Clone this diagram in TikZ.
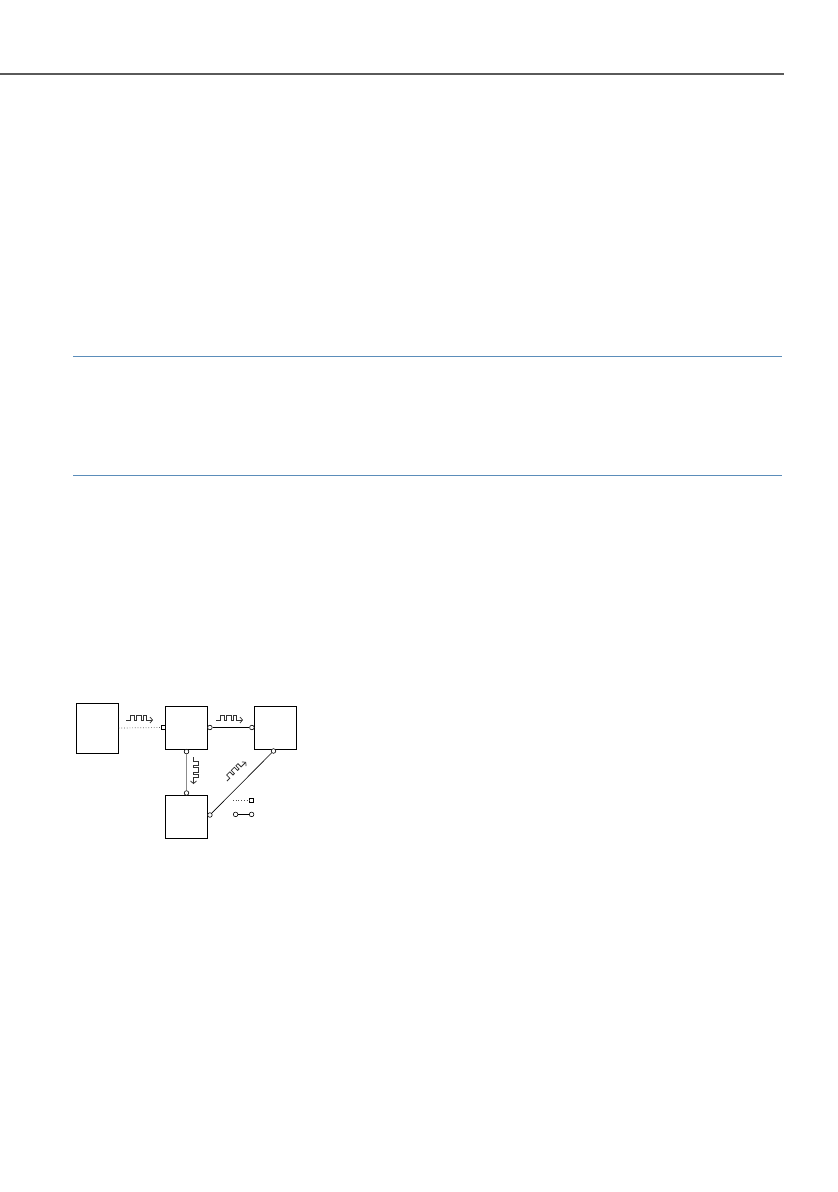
\documentclass[tikz,border=0pt]{standalone}
\usepackage{tikz}
\usetikzlibrary{shapes,positioning,calc}
\usetikzlibrary{arrows.meta}
\definecolor{rulegray}{HTML}{5A5A5A}
\definecolor{ruleblue}{HTML}{5B8DBA}
\tikzstyle{unit} = [draw,line width=1pt,minimum width=42.5,minimum height=43,inner sep=0pt]
\tikzstyle{cport} = [draw,circle,fill=white,line width=0.6pt,minimum size=4.6,inner sep=0pt]
\tikzstyle{sport} = [draw,rectangle,fill=white,line width=0.6pt,minimum size=3.8,inner sep=0pt]
\tikzstyle{sig} = [line width=0.75pt,draw=black!80,-{Straight Barb[length=2.5pt,width=6pt]}]
\newcommand{\pulsetrain}[2]{%
	\draw[sig,shift={#1},rotate=#2] (0,0) -- (4,0) -- (4,-4.5) -- (8.5,-4.5) -- (8.5,0) -- (10.5,0) -- (10.5,-4.5) -- (15,-4.5) -- (15,0) -- (17,0) -- (17,-4.5) -- (20,-4.5) -- (20,0) -- (27,0);}

\begin{document}
\begin{tikzpicture}[x=1pt,y=-1pt]
	\useasboundingbox (0,0) rectangle (838,1192);
	% page rules
	\draw[rulegray,line width=1.1pt] (0,74) -- (784,74);
	\draw[ruleblue,line width=1pt] (73,356) -- (782,356);
	\draw[ruleblue,line width=1pt] (73,475.5) -- (782,475.5);
	% units
	\node[unit,minimum width=41.5,minimum height=50] (boxL) at (97.5,728) {};
	\node[unit] (boxM) at (186.5,727.5) {};
	\node[unit] (boxR) at (275.5,727.5) {};
	\node[unit] (boxD) at (186.5,816.8) {};
	% ports
	\node[sport] (pM0) at (163.4,727.5) {};
	\node[cport] (pM1) at (209.9,727.5) {};
	\node[cport] (pR1) at (251.9,727.5) {};
	\node[cport] (pM2) at (186.5,751.6) {};
	\node[cport] (pD1) at (186.5,793) {};
	\node[cport] (pD2) at (209.9,815) {};
	\node[cport] (pR2) at (273.5,751) {};
	% links
	\draw[dotted,line width=0.7pt,black!70] (boxL.east) -- (pM0);
	\draw[line width=0.7pt] (pM1) -- (pR1);
	\draw[line width=0.9pt,black!45] (pM2) -- (pD1);
	\draw[line width=0.6pt] (pD2) -- (pR2);
	% signals
	\pulsetrain{(126,720)}{0}
	\pulsetrain{(216,720)}{0}
	\pulsetrain{(193.5,757)}{-90}
	\pulsetrain{(227,781)}{45}
	% legend
	\node[sport] (keyS) at (251.5,800.3) {};
	\coordinate (keyD) at (233,800.3);
	\node[cport] (keyA) at (235.6,814.4) {};
	\node[cport] (keyB) at (251.6,814.4) {};
	\draw[dotted,line width=0.7pt,black!70] (keyD) -- (keyS);
	\draw[line width=0.7pt] (keyA) -- (keyB);
\end{tikzpicture}
\end{document}
